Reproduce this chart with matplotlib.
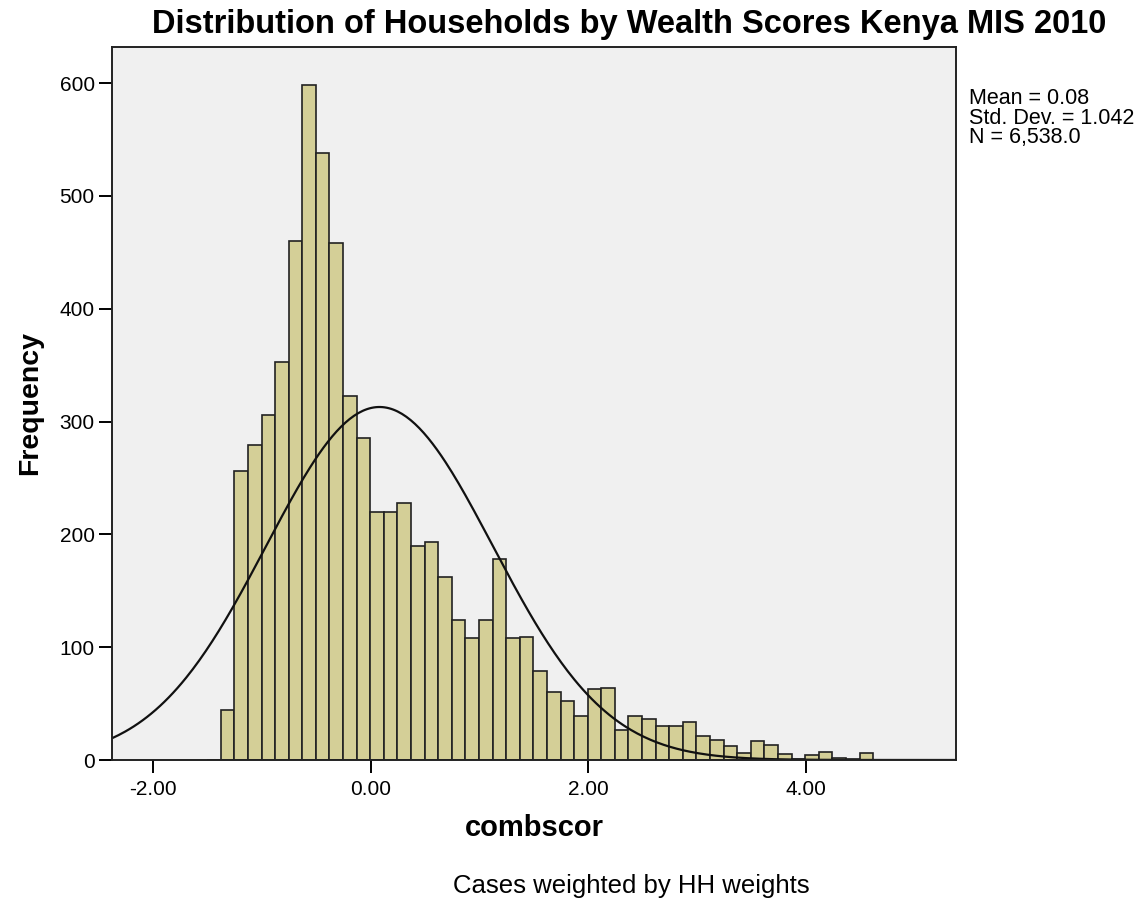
#histogram of household wealth scores with a fitted normal curve (SPSS style)

import numpy as np
import matplotlib.pyplot as plt

plt.rcParams['font.family'] = ['Liberation Sans', 'DejaVu Sans']

#bin layout: 50 bins of width 0.125
bin_start = -1.505
bin_width = 0.125

#frequency in each bin, left to right
counts = [0, 44, 256, 279, 306, 353, 460, 598, 538, 458,
          323, 285, 220, 220, 228, 190, 193, 162, 124, 108,
          124, 178, 108, 109, 79, 60, 52, 39, 63, 64,
          27, 39, 36, 30, 30, 34, 21, 18, 12, 6,
          17, 13, 5, 1, 4, 7, 2, 1, 6, 0]

#summary statistics printed beside the chart
mean = 0.08
std_dev = 1.042
n_cases = 6538.0

x_ticks = [-2.0, 0.0, 2.0, 4.0]
y_ticks = [0, 100, 200, 300, 400, 500, 600]

edges = bin_start + bin_width*np.arange(len(counts))

fig = plt.figure(figsize=(11.47, 9.05), dpi=100)
ax = fig.add_axes([112/1147, 1-760/905, (956-112)/1147, (760-47)/905])
ax.set_facecolor('#f0f0f0')

ax.bar(edges, counts, width=bin_width, align='edge',
       color='#d4cf97', edgecolor='#222222', linewidth=1.2)

#normal curve scaled to the histogram
xs = np.linspace(-2.5, 5.5, 400)
ys = n_cases*bin_width/(std_dev*np.sqrt(2*np.pi))*np.exp(-0.5*((xs-mean)/std_dev)**2)
ax.plot(xs, ys, color='#111111', linewidth=1.6)

ax.set_xlim(-2.38, 5.382)
ax.set_ylim(0, 632)
ax.set_xticks(x_ticks)
ax.set_xticklabels(['%.2f' % t for t in x_ticks])
ax.set_yticks(y_ticks)
ax.tick_params(length=9.5, width=1.4, labelsize=15, colors='black')
ax.tick_params(axis='x', pad=5)
ax.tick_params(axis='y', pad=3)
for s in ax.spines.values():
    s.set_linewidth(1.4)
    s.set_color('#222222')

ax.set_xlabel('combscor', fontsize=21, fontweight='bold', labelpad=11)
ax.set_ylabel('Frequency', fontsize=20.5, fontweight='bold', labelpad=12)

fig.text(629/1147, 1-25/905, 'Distribution of Households by Wealth Scores Kenya MIS 2010',
         ha='center', va='center', fontsize=23.5, fontweight='bold')
fig.text(631/1147, 1-886/905, 'Cases weighted by HH weights',
         ha='center', va='center', fontsize=18.5)

stats = ['Mean = %.2f' % mean, 'Std. Dev. = %.3f' % std_dev, 'N = {:,.1f}'.format(n_cases)]
for i, line in enumerate(stats):
    fig.text(969/1147, 1-(99+19.5*i)/905, line, ha='left', va='center', fontsize=15.5)

plt.savefig('out.png', dpi=100)
